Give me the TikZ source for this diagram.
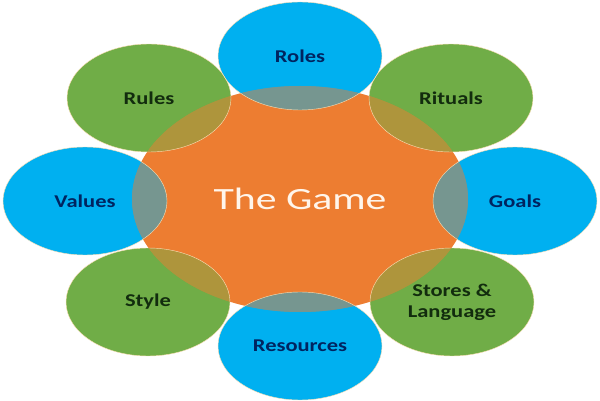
\documentclass[tikz,border=0pt]{standalone}
\usepackage{fontspec}
\setmainfont{Carlito}
\newfontfamily\labelfont[FakeStretch=1.25]{Carlito}
\newfontfamily\hubfont[FakeStretch=1.35]{Carlito}
\usepackage{tikz}
\usetikzlibrary{shapes.geometric}
\definecolor{skyblue}{RGB}{0,176,240}
\definecolor{leafgreen}{RGB}{112,173,71}
\definecolor{huborange}{RGB}{237,125,49}
\definecolor{navytext}{RGB}{0,36,96}
\definecolor{greentext}{RGB}{18,44,14}
\definecolor{rimcream}{RGB}{250,222,180}

\begin{document}
\begin{tikzpicture}[
  sat/.style={ellipse, inner sep=0pt, minimum width=8.2cm, minimum height=5.4cm,
    font=\labelfont\bfseries\fontsize{25.6}{30}\selectfont, align=center},
  bluesat/.style={sat, fill=skyblue, text=navytext},
  greensat/.style={sat, fill=leafgreen, text=greentext},
  hub/.style={ellipse, inner sep=0pt, minimum width=16.8cm, minimum height=11.3cm,
    fill=huborange, text=white!92!orange, font=\hubfont\fontsize{44}{50}\selectfont},
  rim/.style={draw=rimcream, line width=0.6pt}
]
  \useasboundingbox (0,0) rectangle (30,20);

  \node[bluesat]  (roles)     at (15,17.2)    {Roles};
  \node[greensat] (rules)     at (7.45,15.1)  {Rules};
  \node[greensat] (rituals)   at (22.55,15.1) {Rituals};
  \node[bluesat]  (values)    at (4.25,9.95)  {Values};
  \node[bluesat]  (goals)     at (25.75,9.95) {Goals};
  \node[greensat] (style)     at (7.4,4.9)    {Style};
  \node[greensat] (stores)    at (22.6,4.9)   {Stores \&\\Language};
  \node[bluesat]  (resources) at (15,2.7)     {Resources};

  \node[hub] (game) at (15,10.05) {The Game};

  \begin{scope}
    \clip (game.center) ellipse [x radius=8.4, y radius=5.65];
    \foreach \n/\c in {roles/skyblue, rules/leafgreen, rituals/leafgreen, values/skyblue,
        goals/skyblue, style/leafgreen, stores/leafgreen, resources/skyblue}
      \fill[\c, fill opacity=0.5] (\n.center) ellipse [x radius=4.1, y radius=2.7];
  \end{scope}

  \foreach \n in {roles,rules,rituals,values,goals,style,stores,resources}
    \draw[rim] (\n.center) ellipse [x radius=4.1, y radius=2.7];
\end{tikzpicture}
\end{document}
